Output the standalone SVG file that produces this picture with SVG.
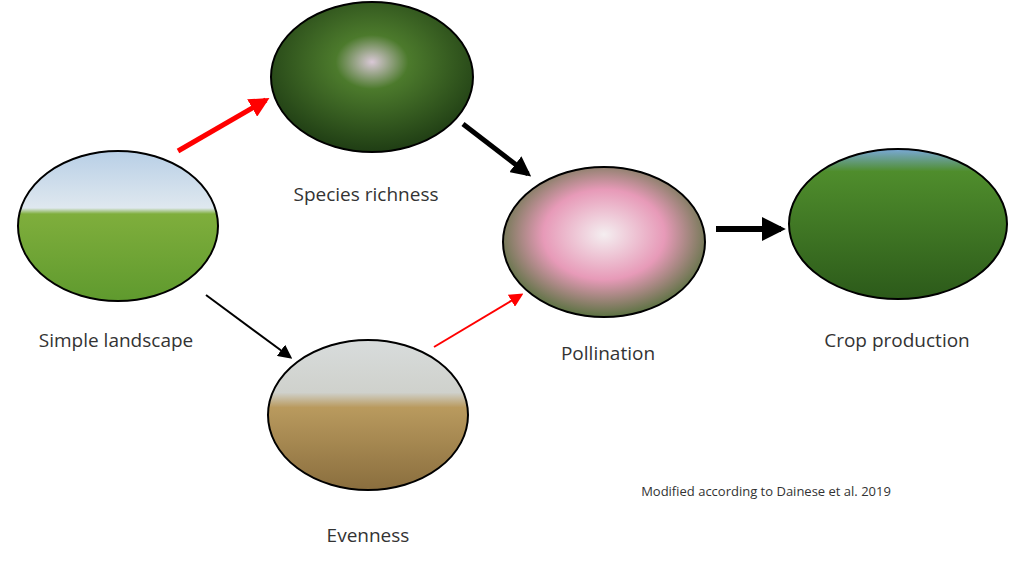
<svg xmlns="http://www.w3.org/2000/svg" width="1024" height="587" viewBox="0 0 1024 587">
<defs>
<linearGradient id="gLand" x1="0" y1="0" x2="0" y2="1"><stop offset="0" stop-color="#b8cfe6"/><stop offset="0.38" stop-color="#dfe8ef"/><stop offset="0.42" stop-color="#7fae3c"/><stop offset="1" stop-color="#5f9a2e"/></linearGradient>
<radialGradient id="gSpec" cx="0.5" cy="0.4" r="0.6"><stop offset="0" stop-color="#d9c8d6"/><stop offset="0.3" stop-color="#4c7a2c"/><stop offset="1" stop-color="#1f3d14"/></radialGradient>
<linearGradient id="gEven" x1="0" y1="0" x2="0" y2="1"><stop offset="0" stop-color="#d8dcdc"/><stop offset="0.35" stop-color="#cfd1cc"/><stop offset="0.45" stop-color="#b99a5e"/><stop offset="1" stop-color="#8a6e3e"/></linearGradient>
<radialGradient id="gPoll" cx="0.5" cy="0.45" r="0.6"><stop offset="0" stop-color="#f4eef0"/><stop offset="0.5" stop-color="#e79ab8"/><stop offset="1" stop-color="#3f6a2a"/></radialGradient>
<linearGradient id="gCrop" x1="0" y1="0" x2="0" y2="1"><stop offset="0" stop-color="#7aa9d8"/><stop offset="0.15" stop-color="#4f8d2c"/><stop offset="1" stop-color="#2c5a1a"/></linearGradient>
<marker id="ahR" viewBox="0 0 10 10" refX="8" refY="5" markerWidth="4" markerHeight="4" orient="auto"><path d="M0,0L10,5L0,10z" fill="#ff0000"/></marker>
<marker id="ahK" viewBox="0 0 10 10" refX="8" refY="5" markerWidth="4" markerHeight="4" orient="auto"><path d="M0,0L10,5L0,10z" fill="#000"/></marker>
<marker id="ahRs" viewBox="0 0 10 10" refX="8" refY="5" markerWidth="7" markerHeight="7" orient="auto"><path d="M0,0L10,5L0,10z" fill="#ff0000"/></marker>
<marker id="ahKs" viewBox="0 0 10 10" refX="8" refY="5" markerWidth="7" markerHeight="7" orient="auto"><path d="M0,0L10,5L0,10z" fill="#000"/></marker>
</defs>
<style>
.n{stroke:#000;stroke-width:2}
.t{font-family:"Open Sans","DejaVu Sans",sans-serif;font-size:19px;fill:#333;text-anchor:middle}
</style>
<rect width="1024" height="587" fill="#fff"/>
<g id="simple-landscape"><ellipse class="n" cx="118" cy="226" rx="100" ry="75" fill="url(#gLand)"/><text class="t" x="116" y="347">Simple landscape</text></g>
<g id="species-richness"><ellipse class="n" cx="372" cy="77" rx="101" ry="75" fill="url(#gSpec)"/><text class="t" x="366" y="201">Species richness</text></g>
<g id="evenness"><ellipse class="n" cx="368" cy="415" rx="100" ry="75" fill="url(#gEven)"/><text class="t" x="368" y="542">Evenness</text></g>
<g id="pollination"><ellipse class="n" cx="604" cy="242" rx="101" ry="75" fill="url(#gPoll)"/><text class="t" x="608" y="360">Pollination</text></g>
<g id="crop-production"><ellipse class="n" cx="898" cy="224" rx="109" ry="75" fill="url(#gCrop)"/><text class="t" x="897" y="347">Crop production</text></g>
<g id="connectors">
<line x1="178" y1="151" x2="266" y2="100" stroke="#ff0000" stroke-width="5" marker-end="url(#ahR)"/>
<line x1="463" y1="124" x2="528" y2="174" stroke="#000" stroke-width="5" marker-end="url(#ahK)"/>
<line x1="206" y1="295" x2="290" y2="357" stroke="#000" stroke-width="2" marker-end="url(#ahKs)"/>
<line x1="434" y1="347" x2="521" y2="295" stroke="#ff0000" stroke-width="2" marker-end="url(#ahRs)"/>
<line x1="716" y1="229" x2="781" y2="229" stroke="#000" stroke-width="6" marker-end="url(#ahK)"/>
</g>
<text x="766" y="496" font-family="'Open Sans','DejaVu Sans',sans-serif" font-size="13" fill="#333" text-anchor="middle">Modified according to Dainese et al. 2019</text>
</svg>
